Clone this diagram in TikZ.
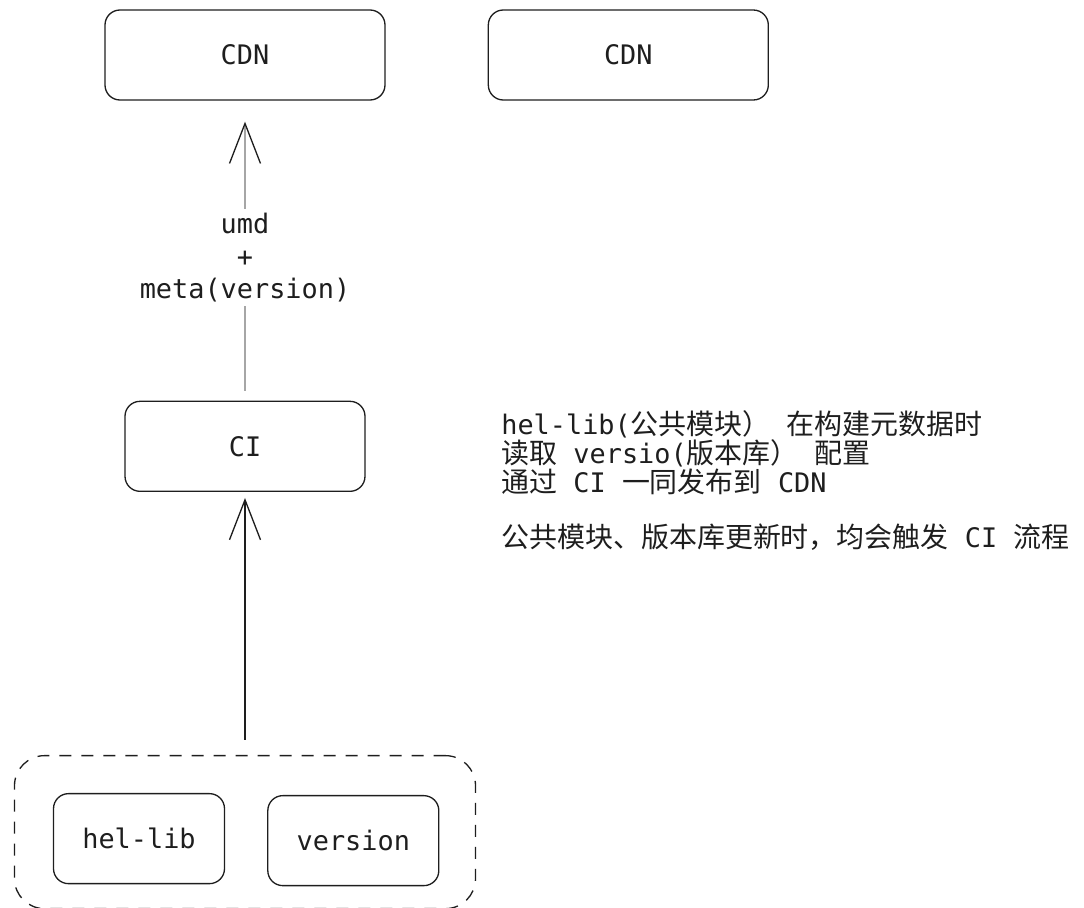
\documentclass[tikz,border=0pt]{standalone}
\usepackage{fontspec}
\usepackage{tikz}
\usetikzlibrary{arrows.meta, positioning}
\newfontfamily\codefont{DejaVu Sans Mono}
\newfontfamily\cjk[Scale=1.04]{Noto Sans CJK SC}
\newcommand{\zh}[1]{{\cjk #1}}
\definecolor{inkline}{HTML}{1E1E1E}
\definecolor{shaftgray}{HTML}{A6A6A6}
\tikzstyle{bigbox} = [rectangle, draw=inkline, line width=0.75pt, rounded corners=0.3cm, minimum width=5.6cm, minimum height=1.8cm, align=center]
\tikzstyle{cibox} = [bigbox, minimum width=4.8cm]
\tikzstyle{srcbox} = [bigbox, minimum width=3.42cm]
\tikzstyle{groupbox} = [rectangle, draw=inkline, line width=0.75pt, dash pattern=on 0.24cm off 0.2cm, rounded corners=0.6cm, minimum width=9.22cm, minimum height=3.06cm]
\tikzstyle{note} = [align=left, inner sep=0pt, anchor=north west, font=\codefont\fontsize{15.3}{15}\selectfont]
\tikzstyle{arrow} = [-{Straight Barb[length=0.8cm, width=0.62cm, line width=0.75pt]}, line width=0.75pt, draw=inkline]

\begin{document}
\begin{tikzpicture}[node distance=2cm, every node/.style={font=\codefont\fontsize{15.3}{18.7}\selectfont, text=inkline}]
\useasboundingbox (0,0) rectangle (21.68,-18.16);

% top row
\node[bigbox] (cdn1) at (4.9,-1.1) {CDN};
\node[bigbox, right=2.04cm of cdn1] (cdn2) {CDN};

% build step
\node[cibox, below=6cm of cdn1] (ci) {CI};

% sources
\node[groupbox, below=5.26cm of ci] (grp) {};
\node[srcbox] (hellib) at ([xshift=-2.12cm, yshift=-0.13cm] grp.center) {hel-lib};
\node[srcbox, right=0.84cm of hellib, yshift=-0.04cm] (version) {version};

% explanation
\node[note] (notes) at (10.02,-8.2) {%
hel-lib(\zh{公共模块）} \zh{在构建元数据时}\\
\zh{读取} versio(\zh{版本库）} \zh{配置}\\
\zh{通过} CI \zh{一同发布到} CDN\\[16.5pt]
\zh{公共模块、版本库更新时，均会触发} CI \zh{流程}};

% arrows
\draw[arrow, draw=shaftgray, line width=1.6pt, -{Straight Barb[length=0.8cm, width=0.62cm, line width=0.75pt, color=inkline]},
      shorten <=0.2cm, shorten >=0.42cm] (ci.north) -- node[fill=white, align=center, inner sep=2pt, yshift=-0.14cm] (pub) {umd\\+\\meta(version)} (cdn1.south);
\draw[arrow, shorten <=0.3cm, shorten >=0.12cm] (grp.north) -- (ci.south);

\end{tikzpicture}
\end{document}
